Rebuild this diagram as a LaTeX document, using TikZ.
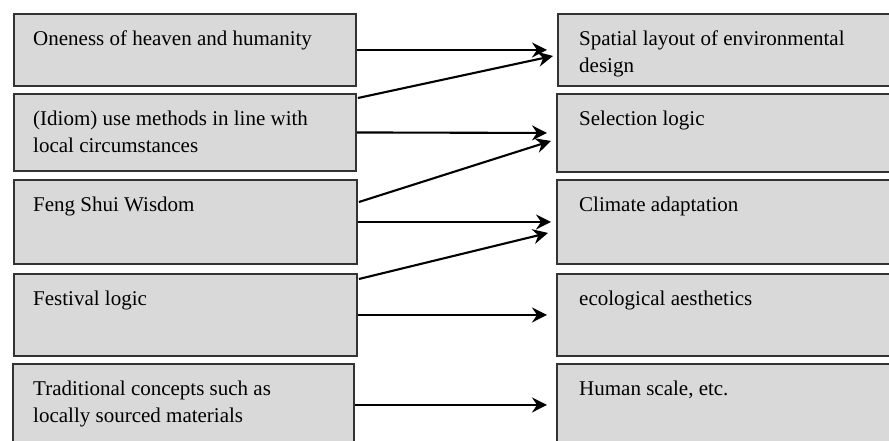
\documentclass[tikz,border=0pt]{standalone}
\usepackage{fontspec}
\setmainfont{Liberation Serif}
\usetikzlibrary{arrows.meta,calc}
\definecolor{boxfill}{HTML}{D9D9D9}
\definecolor{boxline}{HTML}{333333}
\begin{document}
\begin{tikzpicture}[x=1pt,y=-1pt,
  cbox/.style={draw=boxline,fill=boxfill,line width=1.9pt,rectangle,inner sep=0pt,anchor=north west,minimum width=342pt},
  txt/.style={anchor=base west,inner sep=0pt,align=left,font=\fontsize{21}{27}\selectfont},
  link/.style={line width=2.1pt,-{Stealth[length=15pt,width=15pt,inset=5pt]}}]
\useasboundingbox (0,0) rectangle (889,440);
\begin{scope}
\clip (0,0) rectangle (889,440);
% left boxes
\node[cbox,minimum height=72pt] (l1) at (13,13) {};
\node[cbox,minimum height=77pt] (l2) at (13,93) {};
\node[cbox,minimum height=84pt,minimum width=343pt] (l3) at (13,179) {};
\node[cbox,minimum height=82pt,minimum width=343pt] (l4) at (13,273) {};
\node[cbox,minimum height=82pt,minimum width=341pt] (l5) at (12,363) {};
% right boxes
\node[cbox,minimum height=72pt] (r1) at (557,13) {};
\node[cbox,minimum height=78pt] (r2) at (556,93) {};
\node[cbox,minimum height=84pt] (r3) at (556,179) {};
\node[cbox,minimum height=82pt] (r4) at (556,273) {};
\node[cbox,minimum height=82pt] (r5) at (556,363) {};
\end{scope}
% texts (base anchor of a two-line node is the baseline of its last line)
\node[txt] (t1) at ($(l1.north west)+(20,32)$) {Oneness of heaven and humanity};
\node[txt] (t2) at ($(l2.north west)+(20,59)$) {(Idiom) use methods in line with\\local circumstances};
\node[txt] (t3) at ($(l3.north west)+(20,32)$) {Feng Shui Wisdom};
\node[txt] (t4) at ($(l4.north west)+(20,32)$) {Festival logic};
\node[txt] (t5) at ($(l5.north west)+(21,59)$) {Traditional concepts such as\\locally sourced materials};
\node[txt] (s1) at ($(r1.north west)+(22,59)$) {Spatial layout of environmental\\design};
\node[txt] (s2) at ($(r2.north west)+(23,32)$) {Selection logic};
\node[txt] (s3) at ($(r3.north west)+(23,32)$) {Climate adaptation};
\node[txt] (s4) at ($(r4.north west)+(23,32)$) {ecological aesthetics};
\node[txt] (s5) at ($(r5.north west)+(23,32)$) {Human scale, etc.};
% connectors
\draw[link] (l1.east) -- ($(r1.west)+(-10,0)$);
\draw[link] ($(l2.north east)+(1,5)$) -- ($(r1.west)+(-4,6)$);
\draw[link] (l2.east) -- ($(r2.west)+(-9,0)$);
\draw[link] ($(l3.north east)+(1,23)$) -- ($(r2.west)+(-5,8)$);
\draw[link] (l3.east) -- ($(r3.west)+(-5,0)$);
\draw[link] ($(l4.north east)+(1,6)$) -- ($(r3.west)+(-8,11)$);
\draw[link] (l4.east) -- ($(r4.west)+(-9,0)$);
\draw[link] (l5.east) -- ($(r5.west)+(-9,0)$);
\end{tikzpicture}
\end{document}
